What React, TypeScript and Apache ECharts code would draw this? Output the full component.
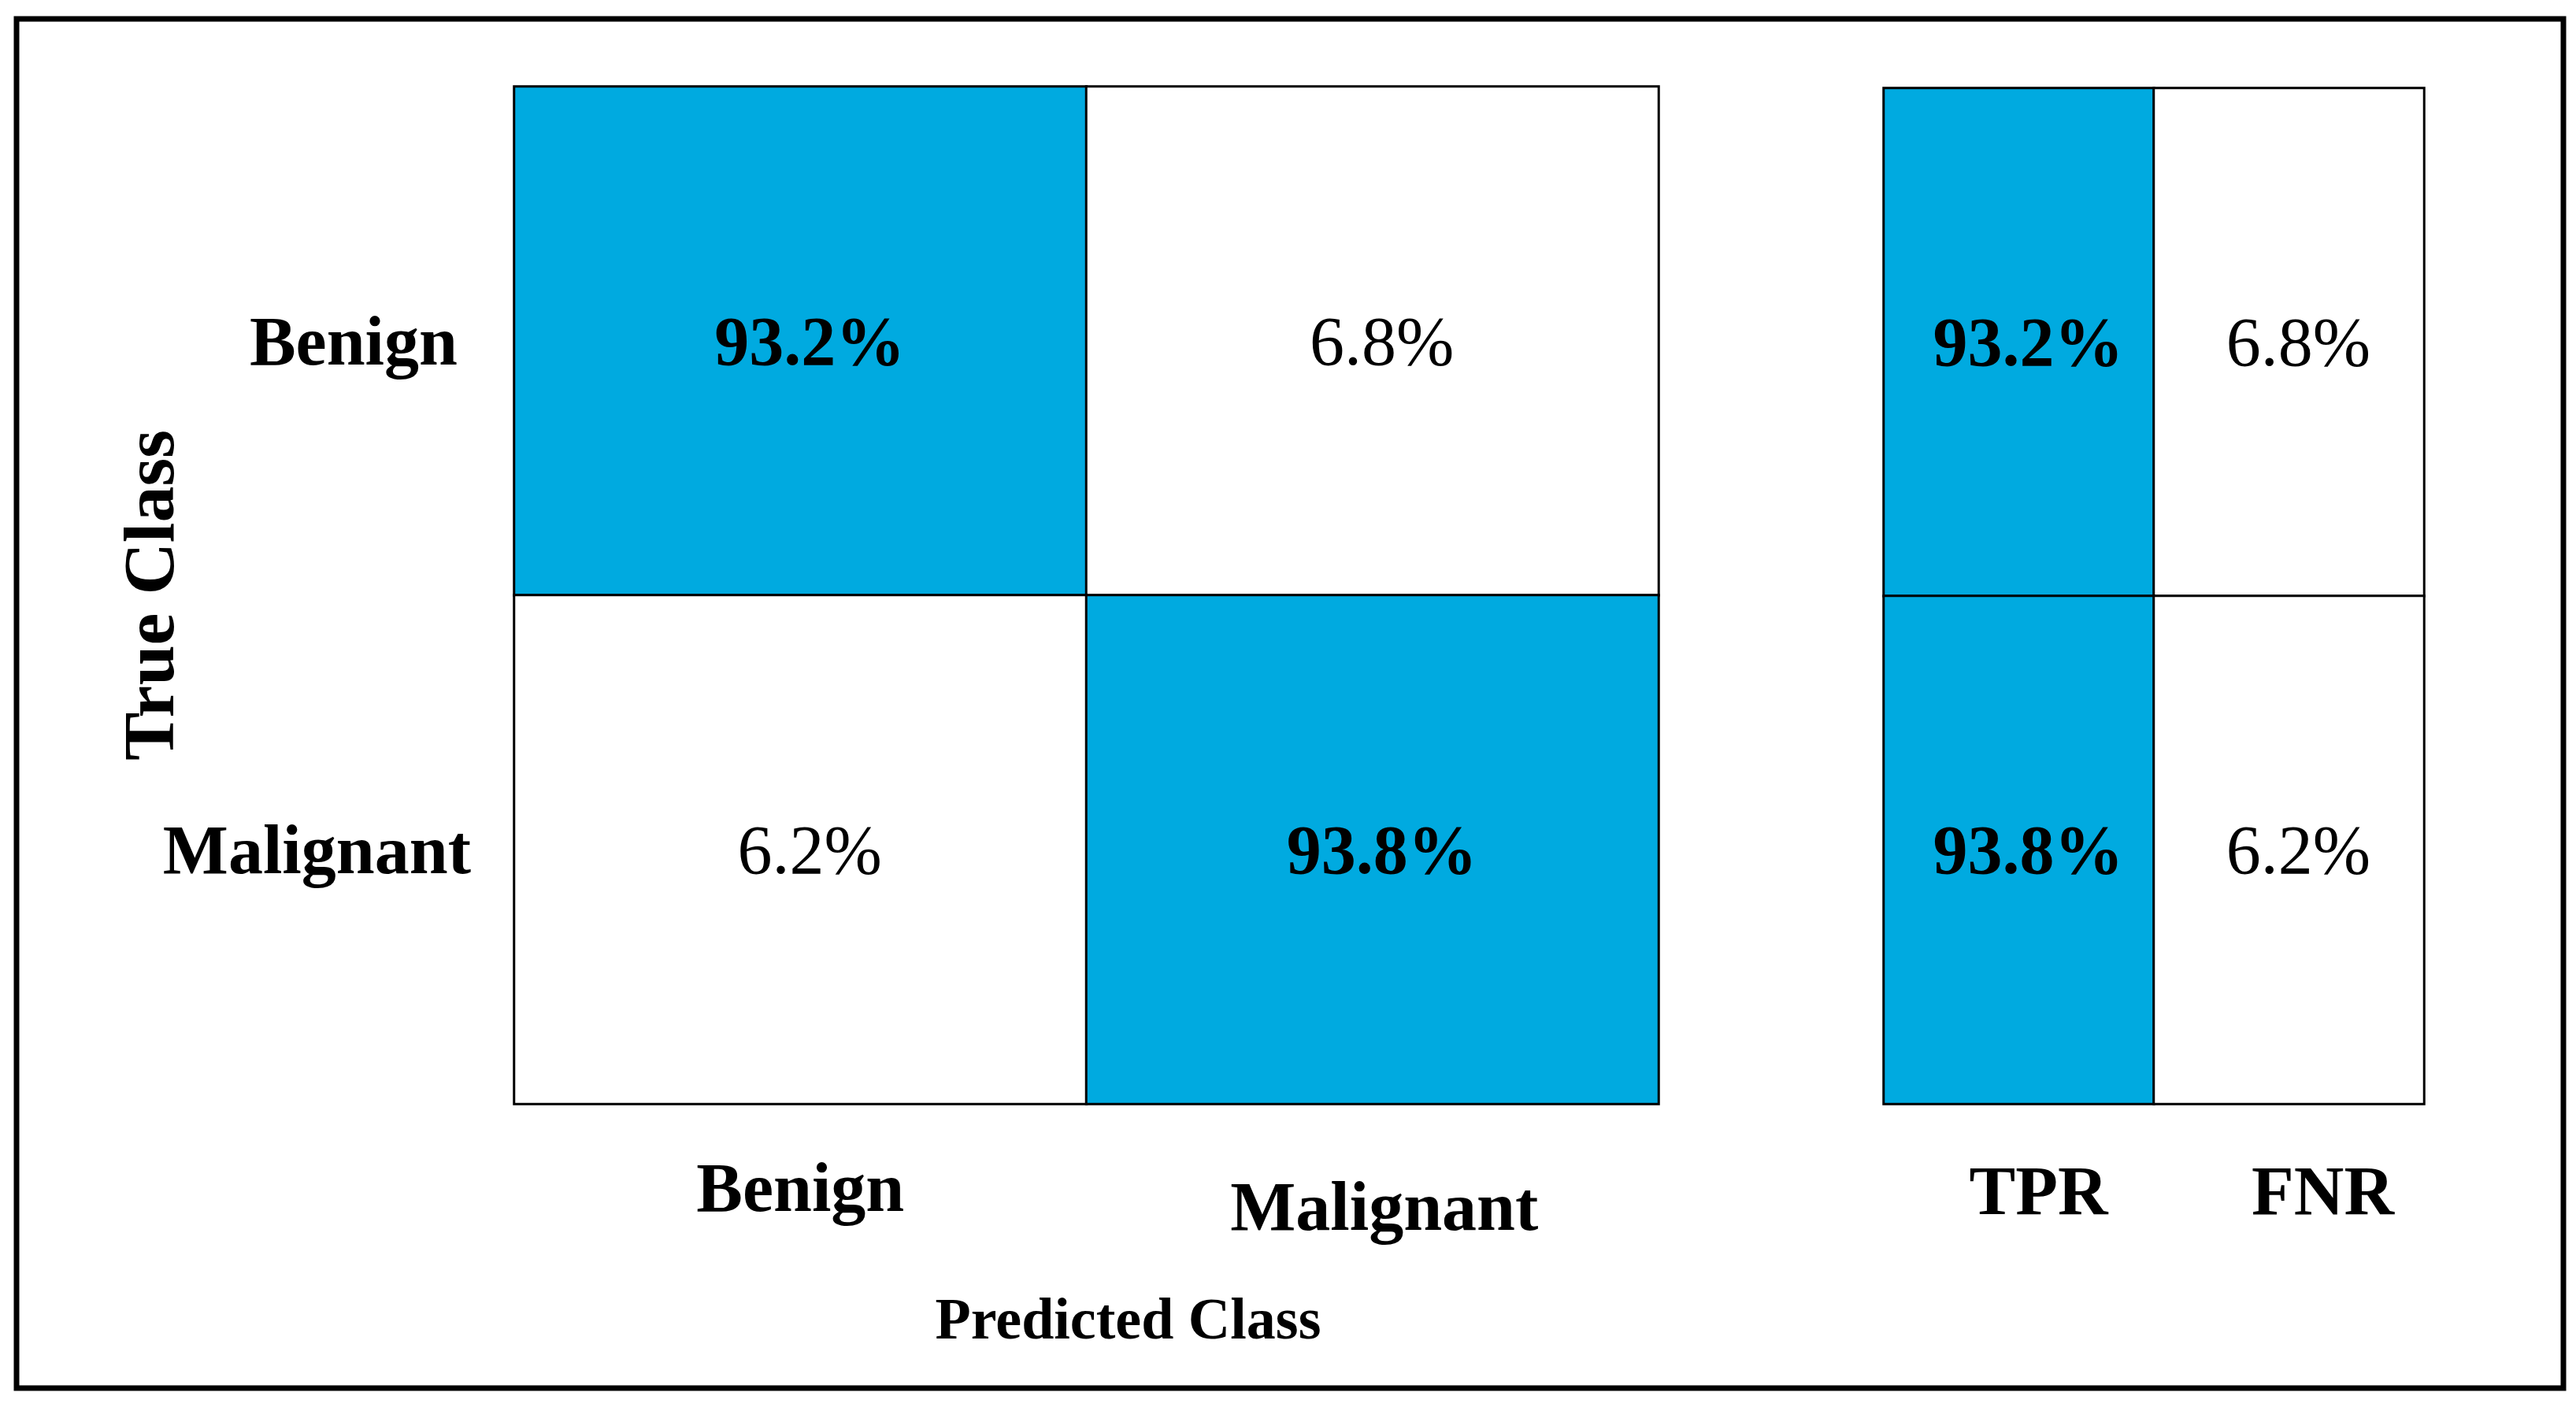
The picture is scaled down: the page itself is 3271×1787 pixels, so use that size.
import React, { useEffect, useRef } from 'react';
import * as echarts from 'echarts';

// ---- data ----
const predictedClasses = ['Benign', 'Malignant'];
const trueClasses = ['Benign', 'Malignant'];
const rateLabels = ['TPR', 'FNR'];
// rows = true class, columns = predicted class (percent)
const rowBenign = [93.2, 6.8];
const rowMalignant = [6.2, 93.8];
// per true class rates (percent)
const tprValues = [93.2, 93.8];
const fnrValues = [6.8, 6.2];

const FONT = "'Liberation Serif', 'Times New Roman', serif";
const BLUE = '#00AAE0';

function cell(c: number, r: number, v: number) {
  const hi = v > 50;
  return {
    value: [c, r, v],
    label: { fontWeight: hi ? 'bold' : 'normal' },
  };
}

export default function App() {
  const ref = useRef<HTMLDivElement>(null);
  useEffect(() => {
    document.body.style.margin = '0';
    document.body.style.overflow = 'hidden';
    if (!ref.current) return;
    const chart = echarts.init(ref.current, undefined, { renderer: 'svg' });

    const matrixRows = [rowBenign, rowMalignant];
    const mainData: any[] = [];
    matrixRows.forEach((row, r) => row.forEach((v, c) => mainData.push(cell(c, r, v))));
    const rateData: any[] = [];
    trueClasses.forEach((_, r) => {
      rateData.push(cell(0, r, tprValues[r]));
      rateData.push(cell(1, r, fnrValues[r]));
    });

    const labelBase = {
      fontFamily: FONT,
      fontSize: 88,
      fontWeight: 'bold' as const,
      color: '#000',
    };
    const hidden = {
      axisLine: { show: false },
      axisTick: { show: false },
      splitLine: { show: false },
    };
    const series = (xi: number, data: any[]) => ({
      type: 'heatmap',
      xAxisIndex: xi,
      yAxisIndex: xi,
      data,
      itemStyle: { borderColor: '#000', borderWidth: 3 },
      label: {
        show: true,
        fontFamily: FONT,
        fontSize: 88,
        color: '#000',
        offset: [12, 0],
        formatter: (p: any) => p.value[2].toFixed(1) + '%',
      },
      emphasis: { disabled: true },
    });

    chart.setOption({
      animation: false,
      backgroundColor: '#fff',
      grid: [
        { left: 653, top: 110, width: 1453, height: 1292 },
        { left: 2392, top: 112, width: 686, height: 1290 },
      ],
      visualMap: {
        type: 'piecewise',
        show: false,
        dimension: 2,
        seriesIndex: [0, 1],
        pieces: [
          { gt: 50, color: BLUE },
          { lte: 50, color: '#ffffff' },
        ],
      },
      xAxis: [
        {
          type: 'category',
          gridIndex: 0,
          data: [
            { value: predictedClasses[0] },
            { value: predictedClasses[1], textStyle: { padding: [24, 0, 0, 30] } },
          ],
          ...hidden,
          axisLabel: { ...labelBase, margin: 62, interval: 0 },
          name: 'Predicted Class',
          nameLocation: 'middle',
          nameGap: 236,
          nameMoveOverlap: false,
          nameTextStyle: {
            fontFamily: FONT,
            fontSize: 74,
            fontWeight: 'bold',
            color: '#000',
            padding: [0, 0, 0, 106],
          },
        },
        {
          type: 'category',
          gridIndex: 1,
          data: [
            { value: rateLabels[0], textStyle: { padding: [0, 0, 0, 50] } },
            { value: rateLabels[1], textStyle: { padding: [0, 0, 0, 86] } },
          ],
          ...hidden,
          axisLabel: { ...labelBase, margin: 66, interval: 0 },
        },
      ],
      yAxis: [
        {
          type: 'category',
          gridIndex: 0,
          inverse: true,
          data: [
            { value: trueClasses[0], textStyle: { padding: [0, 17, 54, 0] } },
            { value: trueClasses[1], textStyle: { padding: [34, 0, 0, 0] } },
          ],
          ...hidden,
          axisLabel: { ...labelBase, margin: 55, interval: 0 },
          name: 'True Class',
          nameLocation: 'middle',
          nameGap: 418,
          nameMoveOverlap: false,
          nameRotate: 90,
          nameTextStyle: {
            fontFamily: FONT,
            fontSize: 92,
            fontWeight: 'bold',
            color: '#000',
          },
        },
        {
          type: 'category',
          gridIndex: 1,
          inverse: true,
          data: trueClasses,
          ...hidden,
          axisLabel: { show: false },
        },
      ],
      series: [series(0, mainData), series(1, rateData)],
      graphic: [
        {
          type: 'rect',
          shape: { x: 21, y: 24, width: 3234, height: 1739 },
          style: { fill: 'none', stroke: '#000', lineWidth: 7 },
          silent: true,
        },
      ],
    });
    return () => chart.dispose();
  }, []);
  return <div ref={ref} style={{ width: 3271, height: 1787 }} />;
}
